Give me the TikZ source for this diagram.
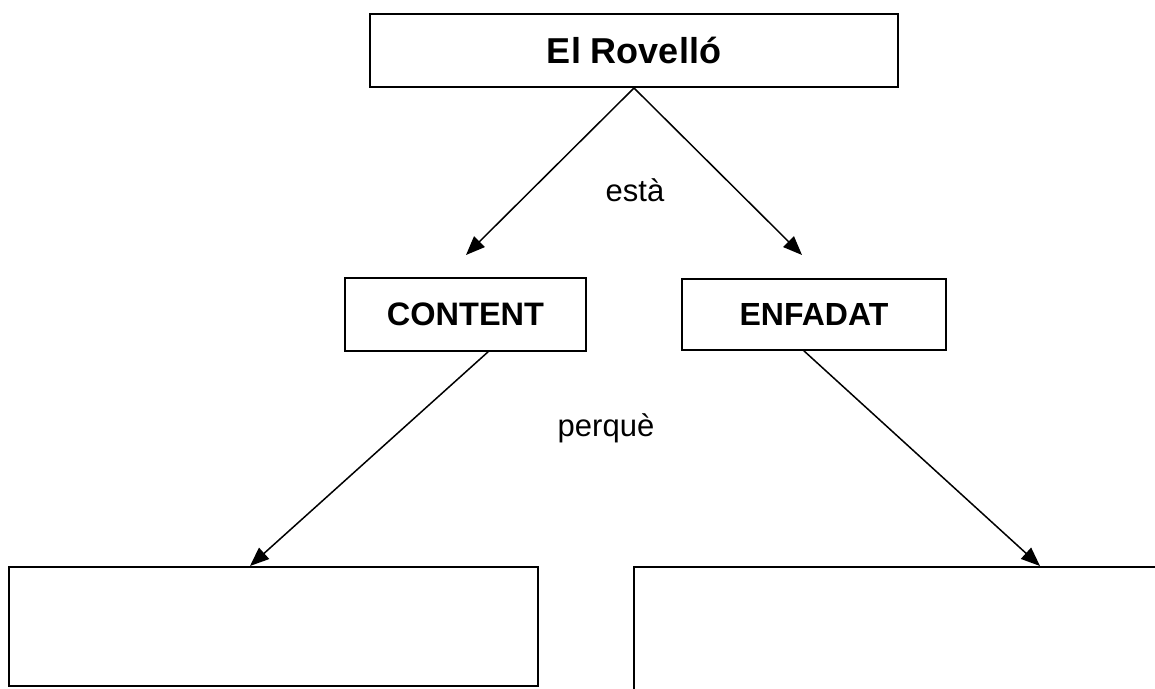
\documentclass[tikz,border=0pt]{standalone}
\usepackage{fontspec}
\setmainfont{Liberation Sans}
\usetikzlibrary{arrows.meta}
\begin{document}
\begin{tikzpicture}[x=1pt,y=-1pt,
  box/.style={draw=black, line width=2pt, fill=white, inner sep=0pt},
  conn/.style={line width=1.5pt, -{Triangle[length=19pt,width=15pt]}},
  lbl/.style={inner sep=0pt, font=\fontsize{31}{36}\selectfont}]
\useasboundingbox (0,0) rectangle (1155,688);
\clip (0,0) rectangle (1155,688);
\fill[white] (0,0) rectangle (1155,688);
% boxes
\node[box, minimum width=528pt, minimum height=73pt, font=\fontsize{36}{42}\selectfont\bfseries] (top) at (634,50.5) {El Rovelló};
\node[box, minimum width=241pt, minimum height=73pt, font=\fontsize{32.5}{38}\selectfont\bfseries] (content) at (465.5,314.5) {CONTENT};
\node[box, minimum width=264pt, minimum height=71pt, font=\fontsize{32}{38}\selectfont\bfseries] (enfadat) at (814,314.5) {ENFADAT};
\node[box, minimum width=529pt, minimum height=119pt] (bl) at (273.5,626.5) {};
\node[box, minimum width=540pt, minimum height=130pt] (br) at (904,632) {};
% labels
\node[lbl] (esta) at (635,190) {està};
\node[lbl] (perque) at (606,428) {perquè};
% connector end points
\coordinate (tl) at (466,255);
\coordinate (tr) at (802,255);
\coordinate (cs) at (489,351);
\coordinate (es) at (803,350);
\coordinate (blt) at (250,566);
\coordinate (brt) at (1040,566);
% connectors
\draw[conn] (top.south) -- (tl);
\draw[conn] (top.south) -- (tr);
\draw[conn] (cs) -- (blt);
\draw[conn] (es) -- (brt);
\end{tikzpicture}
\end{document}
